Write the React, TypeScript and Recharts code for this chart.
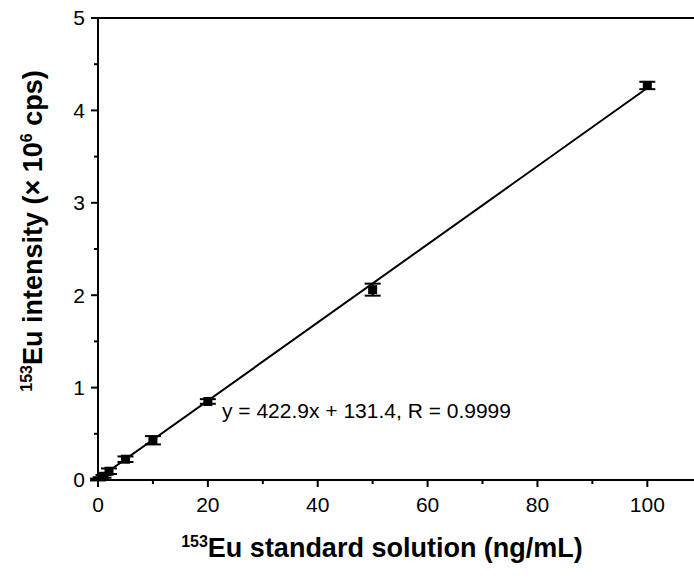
import React from 'react';
import { ComposedChart, Line, Scatter, XAxis, YAxis, ErrorBar, ReferenceLine } from 'recharts';

const concentrations = [0, 0.5, 1, 2, 5, 10, 20, 50, 100];
const intensities = [0.005, 0.02, 0.04, 0.095, 0.225, 0.43, 0.85, 2.06, 4.27];
const errors = [0.01, 0.01, 0.015, 0.03, 0.03, 0.045, 0.025, 0.065, 0.04];
const fitX = [0, 100];
const fitY = [0.013, 4.242];
const xTicks = [0, 10, 20, 30, 40, 50, 60, 70, 80, 90, 100];
const xMajor = [0, 20, 40, 60, 80, 100];
const yTicks = [0, 0.5, 1, 1.5, 2, 2.5, 3, 3.5, 4, 4.5, 5];
const yMajor = [0, 1, 2, 3, 4, 5];
const equationText = 'y = 422.9x + 131.4, R = 0.9999';

const FONT = '"Liberation Sans", Arial, Helvetica, sans-serif';

const points = concentrations.map((x, i) => ({ x, y: intensities[i], err: errors[i] }));
const fitData = fitX.map((x, i) => ({ x, y: fitY[i] }));

const XTick = (props: any) => {
  const { x, y, payload } = props;
  const major = xMajor.includes(payload.value);
  return (
    <g>
      <line x1={x} x2={x} y1={y} y2={y + (major ? 7 : 4)} stroke="#000" strokeWidth={2} />
      {major && (
        <text x={x} y={y + 32} textAnchor="middle" fontSize={21} fontFamily={FONT} fill="#000">
          {payload.value}
        </text>
      )}
    </g>
  );
};

const YTick = (props: any) => {
  const { x, y, payload } = props;
  const major = yMajor.includes(payload.value);
  return (
    <g>
      <line x1={x - (major ? 7 : 4)} x2={x} y1={y} y2={y} stroke="#000" strokeWidth={2} />
      {major && (
        <text x={x - 13} y={y} dy="0.35em" textAnchor="end" fontSize={21} fontFamily={FONT} fill="#000">
          {payload.value}
        </text>
      )}
    </g>
  );
};

const XTitle = () => (
  <g>
    <text x={382} y={557} textAnchor="middle" fontFamily={FONT} fontWeight="bold" fontSize={27} fill="#000">
      <tspan fontSize={16} dy={-10}>153</tspan>
      <tspan dy={10}>Eu standard solution (ng/mL)</tspan>
    </text>
    <text x={222} y={418} textAnchor="start" fontFamily={FONT} fontSize={21} fill="#000">
      {equationText}
    </text>
  </g>
);

const YTitle = () => (
  <text
    transform="translate(42, 231) rotate(-90)"
    textAnchor="middle"
    fontFamily={FONT}
    fontWeight="bold"
    fontSize={27}
    fill="#000"
  >
    <tspan fontSize={16} dy={-10}>153</tspan>
    <tspan dy={10}>Eu intensity (× 10</tspan>
    <tspan fontSize={16} dy={-10}>6</tspan>
    <tspan dy={10}> cps)</tspan>
  </text>
);

const Square = (props: any) => {
  const { cx, cy } = props;
  return <rect x={cx - 4.5} y={cy - 4.5} width={9} height={9} fill="#000" />;
};

export default function App() {
  return (
    <div style={{ position: 'absolute', left: 0, top: 0, width: 694, height: 579, background: '#fff' }}>
      <ComposedChart width={694} height={579} margin={{ top: 18, right: 0, bottom: 0, left: 0 }}>
        <XAxis
          dataKey="x"
          type="number"
          domain={[0, 108.5]}
          ticks={xTicks}
          interval={0}
          tickSize={0}
          tickMargin={0}
          tickLine={false}
          tick={<XTick />}
          axisLine={{ stroke: '#000', strokeWidth: 2 }}
          height={99}
          allowDataOverflow
          label={{ content: () => <XTitle /> }}
        />
        <YAxis
          type="number"
          domain={[0, 5]}
          ticks={yTicks}
          interval={0}
          tickSize={0}
          tickMargin={0}
          tickLine={false}
          tick={<YTick />}
          axisLine={{ stroke: '#000', strokeWidth: 2 }}
          width={98}
          allowDataOverflow
          label={{ content: () => <YTitle /> }}
        />
        <ReferenceLine y={5} stroke="#000" strokeWidth={2} />
        <Line
          data={fitData}
          dataKey="y"
          type="linear"
          stroke="#000"
          strokeWidth={2}
          dot={false}
          activeDot={false}
          isAnimationActive={false}
        />
        <Scatter data={points} dataKey="y" shape={<Square />} isAnimationActive={false}>
          <ErrorBar dataKey="err" direction="y" width={8} stroke="#000" strokeWidth={2} isAnimationActive={false} />
        </Scatter>
      </ComposedChart>
    </div>
  );
}
